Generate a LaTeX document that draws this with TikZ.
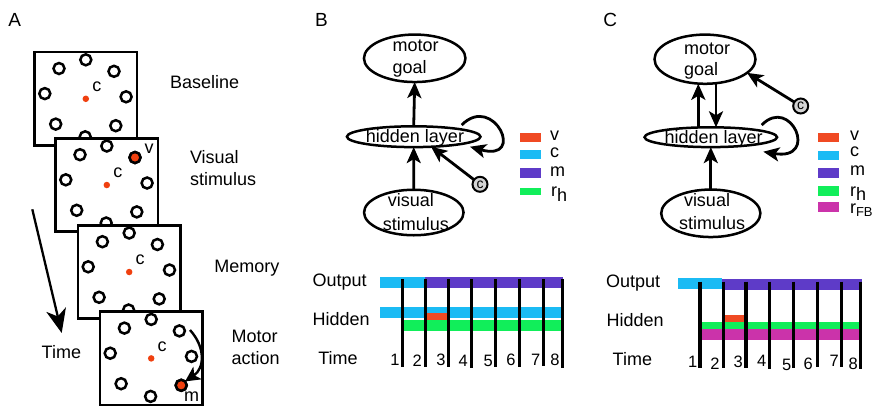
\documentclass[tikz,border=0pt]{standalone}
\usepackage{fontspec}
\setmainfont{Liberation Sans}
\usetikzlibrary{shapes.geometric,arrows.meta,calc}
\definecolor{colv}{HTML}{F04A23}
\definecolor{colc}{HTML}{1BBBF4}
\definecolor{colm}{HTML}{5E3BC8}
\definecolor{colg}{HTML}{11EE5A}
\definecolor{colf}{HTML}{CB33AA}
\definecolor{dotred}{HTML}{F0400F}
\definecolor{colgray}{HTML}{D4D4D4}
\newcommand{\myfs}[1]{\fontsize{#1}{#1}\selectfont}
\newcommand{\stimbox}[2]{%
  \node[tbox] (#1) at (#2) {};
  \foreach \i/\dx/\dy in {1/0/-39, 2/-26.8/-30.3, 3/28.2/-27.5, 4/-41/-5.2, 5/40.3/-2, 6/-30.1/25.3, 7/30/26.9, 8/-0.6/38}{
    \node[target] (#1-\i) at ($(#1)+(\dx,\dy)$) {};
  }
  \node[dot] (#1-d) at (#1) {};
  \node[atxt, anchor=center] (#1-c) at ($(#1)+(11,-12)$) {c};
}
\begin{document}
\begin{tikzpicture}[x=1pt,y=-1pt,
  every node/.style={inner sep=0pt, outer sep=0pt},
  txt/.style={font=\myfs{18}},
  atxt/.style={font=\myfs{18}, anchor=base west},
  ntxt/.style={font=\myfs{16.5}, anchor=base},
  ptxt/.style={font=\myfs{19}, anchor=base west},
  ell/.style={ellipse, draw, line width=2.5pt},
  arr/.style={line width=2.8pt, -{Stealth[length=16pt,width=14pt,inset=4pt]}},
  tarr/.style={line width=2.3pt, -{Stealth[length=24pt,width=20pt,inset=7pt]}},
  marr/.style={line width=2.4pt, -{Stealth[length=15pt,width=15pt,inset=4pt]}},
  cnode/.style={circle, draw, line width=2pt, fill=colgray, minimum size=15pt, font=\myfs{14}},
  target/.style={circle, draw, line width=2.5pt, minimum size=11pt},
  dot/.style={circle, fill=dotred, minimum size=6.5pt},
  tbox/.style={draw, line width=2.6pt, fill=white, minimum width=102.5pt, minimum height=93.5pt},
  vline/.style={line width=3.2pt},
]
\useasboundingbox (0,0) rectangle (875,408);

% ---------------- Panel A ----------------
\node[ptxt] (labA) at (8.3,26) {A};
\stimbox{bx1}{85.8,98.8}
\stimbox{bx2}{106.8,185}
\node[target, fill=dotred] (bx2-v) at (bx2-3) {};
\node[atxt, anchor=center] (bx2-vl) at ($(bx2)+(42.4,-36)$) {v};
\stimbox{bx3}{129.2,272}
\stimbox{bx4}{151.2,358.4}
\node[target, fill=dotred] (bx4-m) at (bx4-7) {};
\node[atxt, anchor=center] (bx4-ml) at ($(bx4)+(40.5,38)$) {m};
\draw[marr] ($(bx4)+(38.8,-28.4)$) .. controls ($(bx4)+(54.2,-11.4)$) and ($(bx4)+(53.8,9.6)$) .. (bx4-m.north east);

\node[atxt] (tBase) at (170,88.3) {Baseline};
\node[atxt] (tVis1) at (190,163.3) {Visual};
\node[atxt] (tVis2) at (190,185) {stimulus};
\node[atxt] (tMem) at (214.3,272.7) {Memory};
\node[atxt] (tMot1) at (231.7,342.7) {Motor};
\node[atxt] (tMot2) at (231.7,364) {action};
\node[atxt] (tTime) at (41.7,358.3) {Time};
\coordinate (ta) at (32.3,209.3);
\coordinate (tb) at (61.7,333);
\draw[tarr] (ta) -- (tb);

% ---------------- Panel B ----------------
\node[ptxt] (labB) at (315,26.7) {B};
\node[ell, minimum width=101.5pt, minimum height=47.5pt] (mgB) at (414.7,58.3) {};
\node[ell, minimum width=133.5pt, minimum height=20.8pt] (hlB) at (413.7,136.7) {};
\node[ell, minimum width=99.5pt, minimum height=45.5pt] (vsB) at (413.8,212.5) {};
\node[txt, anchor=base west] (mgBt1) at (392.7,51.7) {motor};
\node[txt, anchor=base west] (mgBt2) at (392.7,73.3) {goal};
\node[txt, anchor=base] (hlBt) at (415,142.7) {hidden layer};
\node[txt, anchor=base] (vsBt1) at (410.8,206.7) {visual};
\node[txt, anchor=base] (vsBt2) at (415.8,230) {stimulus};
\node[cnode] (cB) at (480,184.3) {c};
\draw[arr] (vsB.north) -- (hlB.south);
\draw[arr] (hlB.north) -- (mgB.south);
\draw[arr] (cB) -- (hlB.-30);
\draw[arr] ($(hlB)+(48,-11.7)$) .. controls ($(hlB)+(80,-44)$) and ($(hlB)+(113,26)$) .. ($(hlB)+(56.3,10)$);

% legend B
\fill[colv] (520,132.7) rectangle (540.7,142);
\fill[colc] (520,149.5) rectangle (540.7,159);
\fill[colm] (520,168) rectangle (540.7,177.5);
\fill[colg] (520,187.7) rectangle (540.7,195);
\node[txt, anchor=base west] (lvB) at (550,140) {v};
\node[txt, anchor=base west] (lcB) at (550,157.3) {c};
\node[txt, anchor=base west] (lmB) at (550,176.7) {m};
\node[txt, anchor=base west] (lrB) at (551.2,196.7) {r\raisebox{-5pt}{h}};

% timeline B
\fill[colc] (380,277.3) rectangle (425,287.7);
\fill[colm] (425,276.7) rectangle (563.3,287.7);
\fill[colc] (380,307.3) rectangle (562.5,318);
\fill[colv] (427,312.7) rectangle (446.7,320);
\fill[colg] (403.3,320) rectangle (562,330.8);
\foreach \x/\b in {402.3/366.7, 425.5/366.7, 448.3/366.7, 471.5/368.3, 495.2/367.3, 519.3/366.7, 543.3/366, 562.3/368.3}
  \draw[vline] (\x,279.3) -- (\x,\b);
\node[txt, anchor=base west] (oB) at (312.7,286) {Output};
\node[txt, anchor=base west] (hB) at (312.7,325) {Hidden};
\node[txt, anchor=base west] (tB) at (318.3,364) {Time};
\foreach \n/\x/\y in {1/395/365, 2/417.3/366, 3/441/365, 4/463.3/366.7, 5/488.3/366.7, 6/511/365.7, 7/535.7/365, 8/555/365.7}
  \node[ntxt] (nB\n) at (\x,\y) {\n};

% ---------------- Panel C ----------------
\node[ptxt] (labC) at (603.3,26.7) {C};
\node[ell, minimum width=101pt, minimum height=49.2pt] (mgC) at (705,59.2) {};
\node[ell, minimum width=132.5pt, minimum height=19.8pt] (hlC) at (710.8,137.2) {};
\node[ell, minimum width=99.2pt, minimum height=47.5pt] (vsC) at (710.8,213.3) {};
\node[txt, anchor=base west] (mgCt1) at (684,54) {motor};
\node[txt, anchor=base west] (mgCt2) at (684,75) {goal};
\node[txt, anchor=base] (hlCt) at (713.7,143.3) {hidden layer};
\node[txt, anchor=base] (vsCt1) at (707,206.7) {visual};
\node[txt, anchor=base] (vsCt2) at (712,229.3) {stimulus};
\node[cnode] (cC) at (800.7,106) {c};
\draw[arr] (vsC.north) -- (hlC.south);
\draw[arr] ([xshift=-12.5pt]hlC.north) -- ([xshift=-6.7pt]mgC.south);
\draw[arr] ([xshift=11pt]mgC.south) -- ([xshift=5.2pt]hlC.north);
\draw[arr] (cC) -- (mgC.-18);
\draw[arr] ($(hlC)+(50.9,-12.2)$) .. controls ($(hlC)+(80,-42)$) and ($(hlC)+(109,24)$) .. ($(hlC)+(52.5,14.5)$);

% legend C
\fill[colv] (818.3,132.7) rectangle (839.3,141.7);
\fill[colc] (818.3,150.7) rectangle (839.3,160);
\fill[colm] (818.3,168.3) rectangle (839.3,178.3);
\fill[colg] (818.3,185.7) rectangle (839.3,195.7);
\fill[colf] (818.3,201.7) rectangle (839.3,212.3);
\node[txt, anchor=base west] (lvC) at (850,140) {v};
\node[txt, anchor=base west] (lcC) at (850,156.5) {c};
\node[txt, anchor=base west] (lmC) at (850,175.7) {m};
\node[txt, anchor=base west] (lrC) at (850,196.7) {r\raisebox{-4pt}{h}};
\node[txt, anchor=base west] (lfC) at (850,213.3) {r\raisebox{-3.4pt}{\myfs{13}FB}};

% timeline C
\fill[colc] (678.3,278.3) rectangle (721.7,289);
\fill[colm] (721.7,279.3) rectangle (861.7,290);
\fill[colv] (725,315) rectangle (745,321.7);
\fill[colg] (701.7,322.3) rectangle (859.3,329);
\fill[colf] (701.7,329) rectangle (859.3,340);
\foreach \x/\b in {700/368.3, 723.3/368.3, 746/368.3, 769.3/369.3, 793.3/368.3, 817.3/367.3, 841.7/367.3, 860.7/369.3}
  \draw[vline] (\x,281.7) -- (\x,\b);
\node[txt, anchor=base west] (oC) at (606,287.3) {Output};
\node[txt, anchor=base west] (hC) at (606.7,326) {Hidden};
\node[txt, anchor=base west] (tC) at (612.7,365) {Time};
\foreach \n/\x/\y in {1/692.7/367.3, 2/715/369.3, 3/738.3/367.3, 4/761.7/366.7, 5/786.7/370, 6/808.3/369, 7/834.3/366.7, 8/853.3/369}
  \node[ntxt] (nC\n) at (\x,\y) {\n};
\end{tikzpicture}
\end{document}
